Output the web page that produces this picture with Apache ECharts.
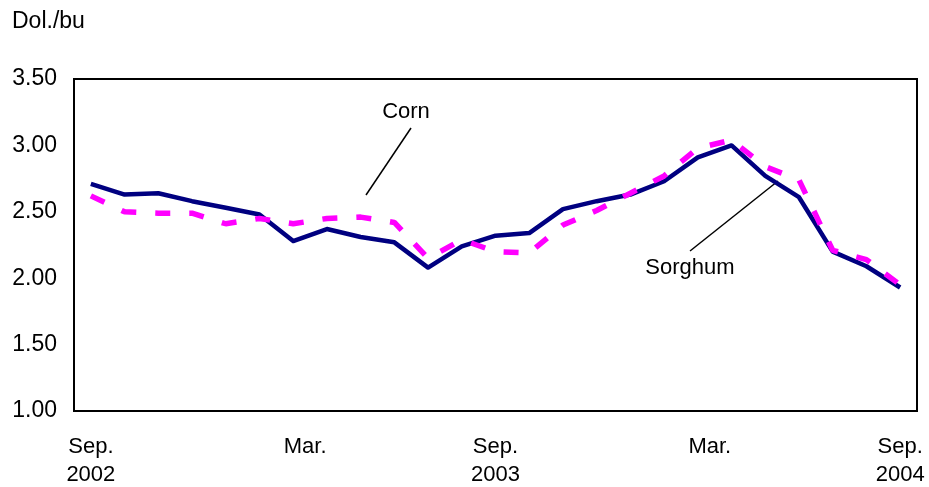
<!DOCTYPE html>
<html>
<head>
<meta charset="utf-8">
<title>Sorghum and corn prices</title>
<script src="https://cdn.jsdelivr.net/npm/echarts@6/dist/echarts.min.js"></script>
<style>
  html, body { margin: 0; padding: 0; background: #fff; }
  #chart { width: 929px; height: 487px; }
</style>
</head>
<body>
<div id="chart"></div>
<script>
// Monthly prices, Sep. 2002 - Sep. 2004 (dollars per bushel)
const months = [
  'Sep. 2002', 'Oct. 2002', 'Nov. 2002', 'Dec. 2002',
  'Jan. 2003', 'Feb. 2003', 'Mar. 2003', 'Apr. 2003', 'May 2003', 'Jun. 2003',
  'Jul. 2003', 'Aug. 2003', 'Sep. 2003', 'Oct. 2003', 'Nov. 2003', 'Dec. 2003',
  'Jan. 2004', 'Feb. 2004', 'Mar. 2004', 'Apr. 2004', 'May 2004', 'Jun. 2004',
  'Jul. 2004', 'Aug. 2004', 'Sep. 2004'
];

const sorghum = [
  2.71, 2.63, 2.64, 2.58, 2.53, 2.48, 2.28, 2.37, 2.31, 2.27, 2.08, 2.24, 2.32,
  2.34, 2.52, 2.58, 2.63, 2.73, 2.91, 3.00, 2.77, 2.61, 2.20, 2.09, 1.93
];

const corn = [
  2.62, 2.50, 2.49, 2.49, 2.41, 2.45, 2.41, 2.45, 2.46, 2.42, 2.15, 2.29, 2.20,
  2.19, 2.40, 2.51, 2.64, 2.77, 2.98, 3.04, 2.84, 2.74, 2.21, 2.14, 1.95
];

// Tick labels shown every six months
const tickLabels = {
  'Sep. 2002': 'Sep.\n2002',
  'Mar. 2003': 'Mar.',
  'Sep. 2003': 'Sep.\n2003',
  'Mar. 2004': 'Mar.',
  'Sep. 2004': 'Sep.\n2004'
};

const yMin = 1.0, yMax = 3.5, yStep = 0.5;
const unitLabel = 'Dol./bu';

const FONT = '"Liberation Sans", Arial, sans-serif';

const chart = echarts.init(document.getElementById('chart'), null, { renderer: 'canvas' });

chart.setOption({
  animation: false,
  backgroundColor: '#ffffff',
  textStyle: { fontFamily: FONT },
  grid: {
    left: 74, right: 12, top: 79, bottom: 76,
    outerBoundsMode: 'none',
    containLabel: false,
    show: true, borderColor: '#000', borderWidth: 2, backgroundColor: 'transparent'
  },
  xAxis: {
    type: 'category',
    data: months,
    boundaryGap: true,
    axisLine: { show: false },
    axisTick: { show: false },
    splitLine: { show: false },
    axisLabel: {
      interval: 5,
      margin: 22,
      color: '#000',
      fontSize: 22,
      fontFamily: FONT,
      lineHeight: 28,
      formatter: function (v) {
        const t = tickLabels[v] || '';
        return t === 'Mar.' ? '{m|' + t + '}' : t;
      },
      rich: {
        m: { fontSize: 22, fontFamily: FONT, color: '#000', padding: [0, 0, 0, 24], lineHeight: 28 }
      }
    }
  },
  yAxis: {
    type: 'value',
    min: yMin, max: yMax, interval: yStep,
    axisLine: { show: false },
    axisTick: { show: false },
    splitLine: { show: false },
    axisLabel: {
      margin: 17,
      color: '#000',
      fontSize: 23,
      fontFamily: FONT,
      formatter: v => v.toFixed(2)
    }
  },
  series: [
    {
      name: 'Sorghum',
      type: 'line',
      data: sorghum,
      symbol: 'none',
      lineStyle: { color: '#000080', width: 4.5, join: 'round' },
      z: 2
    },
    {
      name: 'Corn',
      type: 'line',
      data: corn,
      symbol: 'none',
      lineStyle: { color: '#ff00ff', width: 5.5, type: [15, 19], cap: 'butt' },
      z: 3
    }
  ],
  graphic: [
    {
      type: 'text', left: 12, top: 10,
      style: { text: unitLabel, fill: '#000', font: '23px ' + FONT }
    },
    {
      type: 'text', x: 406, y: 112,
      style: { text: 'Corn', fill: '#000', font: '22px ' + FONT, align: 'center', verticalAlign: 'middle' }
    },
    {
      type: 'line', shape: { x1: 411, y1: 128, x2: 366, y2: 195 },
      style: { stroke: '#000', lineWidth: 1.5 }
    },
    {
      type: 'text', x: 690, y: 268,
      style: { text: 'Sorghum', fill: '#000', font: '22px ' + FONT, align: 'center', verticalAlign: 'middle' }
    },
    {
      type: 'line', shape: { x1: 690, y1: 251, x2: 778, y2: 181 },
      style: { stroke: '#000', lineWidth: 1.5 }
    }
  ]
});
</script>
</body>
</html>
